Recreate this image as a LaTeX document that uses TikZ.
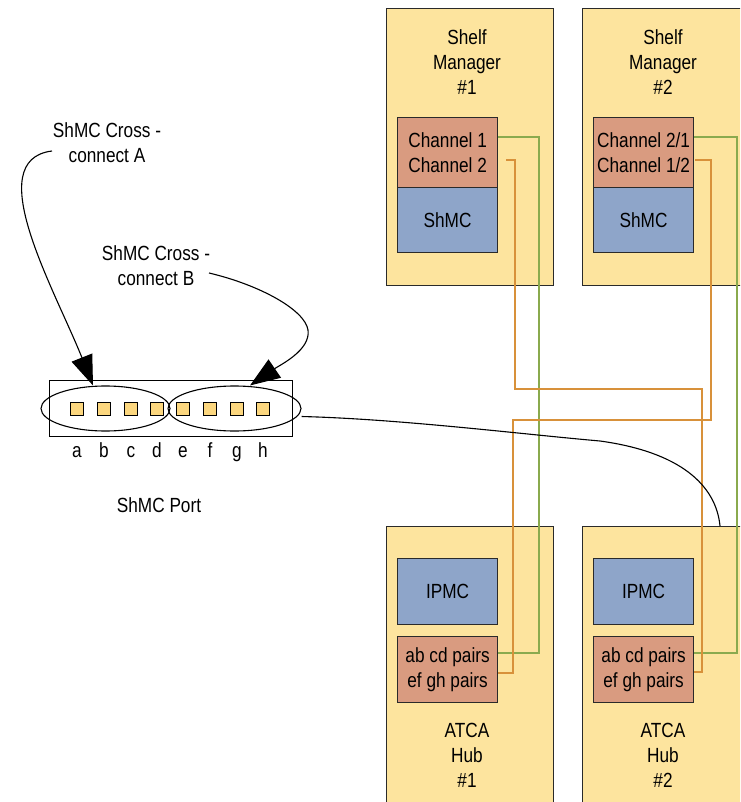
\documentclass[tikz,border=0pt]{standalone}
\usepackage{fontspec}
\setmainfont{Liberation Sans}[FakeStretch=0.84]
\usetikzlibrary{arrows.meta,shapes.geometric}
\definecolor{boxyellow}{HTML}{FDE49E}
\definecolor{portyellow}{HTML}{FCD77F}
\definecolor{salmon}{HTML}{D99B80}
\definecolor{steel}{HTML}{8EA5C9}
\definecolor{wgreen}{HTML}{8AAA4E}
\definecolor{worange}{HTML}{D8913A}
\definecolor{edge}{HTML}{2A2A2A}
\tikzset{
  txt/.style={font=\fontsize{20.5}{25}\selectfont},
  unit/.style={draw=edge, line width=1.3pt, fill=boxyellow, minimum width=167pt, minimum height=#1, anchor=north west, inner sep=0pt},
  chbox/.style={draw=edge, line width=1.2pt, fill=salmon, minimum width=100pt, minimum height=#1, anchor=north west, inner sep=0pt, align=center, txt},
  ctlbox/.style={draw=edge, line width=1.2pt, fill=steel, minimum width=100pt, minimum height=#1, anchor=north west, inner sep=0pt, txt},
  lbl/.style={align=center, inner sep=0pt, txt},
  sq/.style={draw=black, line width=0.9pt, fill=portyellow, minimum size=13pt, inner sep=0pt},
  ring/.style={ellipse, draw=black, line width=1.1pt, inner sep=0pt},
  gline/.style={draw=wgreen, line width=1.3pt},
  oline/.style={draw=worange, line width=1.3pt},
  callout/.style={draw=black, line width=1.1pt, -{Triangle[length=30pt,width=22pt]}},
}
\begin{document}
\begin{tikzpicture}[x=1pt,y=-1pt]
\clip (0,0) rectangle (740,802);
\fill[white] (0,0) rectangle (740,802);

% Shelf managers
\node[unit=277pt] (sm1) at (386,8) {};
\node[unit=277pt] (sm2) at (582,8) {};
\node[lbl] (sm1t) at (467,62) {Shelf\\Manager\\\#1};
\node[lbl] (sm2t) at (663,62) {Shelf\\Manager\\\#2};
\node[chbox=70pt] (ch1) at (397,117) {Channel 1\\Channel 2};
\node[ctlbox=65pt] (shmc1) at (397,187) {ShMC};
\node[chbox=70pt] (ch2) at (593,117) {Channel 2/1\\Channel 1/2};
\node[ctlbox=65pt] (shmc2) at (593,187) {ShMC};

% ATCA hubs
\node[unit=290pt] (hub1) at (386,526) {};
\node[unit=290pt] (hub2) at (582,526) {};
\node[ctlbox=66pt] (ipmc1) at (397,558) {IPMC};
\node[chbox=66pt] (pr1) at (397,636) {ab cd pairs\\ef gh pairs};
\node[ctlbox=66pt] (ipmc2) at (593,558) {IPMC};
\node[chbox=66pt] (pr2) at (593,636) {ab cd pairs\\ef gh pairs};
\node[lbl] (hub1t) at (467,755) {ATCA\\Hub\\\#1};
\node[lbl] (hub2t) at (663,755) {ATCA\\Hub\\\#2};

% connector endpoints
\coordinate (g1a) at (ch1.east |- 0,137);
\coordinate (o1a) at (506,160);
\coordinate (g2a) at (ch2.east |- 0,137);
\coordinate (o2a) at (695,160);
\coordinate (g1b) at (pr1.east |- 0,653);
\coordinate (o1b) at (pr1.east |- 0,673);
\coordinate (g2b) at (pr2.east |- 0,653);
\coordinate (o2b) at (pr2.east |- 0,672);

\draw[gline] (g1a) -| (539,300) |- (g1b);
\draw[gline] (g2a) -| (737,300) |- (g2b);
\draw[oline] (o1a) -| (515,389) -| (702,500) |- (o2b);
\draw[oline] (o2a) -| (711,420) -| (513,500) |- (o1b);

% ShMC port
\node[draw=black, line width=1pt, minimum width=243pt, minimum height=56pt, inner sep=0pt] (port) at (170.5,408.5) {};
\foreach \x/\l [count=\i] in {77/a,104/b,131/c,157/d,183/e,210/f,237/g,263/h}{
  \node[sq] (s\i) at (\x,408.5) {};
  \node[lbl, anchor=base] (t\i) at (\x,457) {\l};
}
\node[ring, minimum width=129pt, minimum height=45pt] (ell1) at (105.5,408.5) {};
\node[ring, minimum width=133pt, minimum height=45pt] (ell2) at (234.5,408.5) {};
\node[lbl] (portt) at (159,505) {ShMC Port};

\node[lbl] (ca) at (107,143) {ShMC Cross -\\connect A};
\node[lbl] (cb) at (156,266) {ShMC Cross -\\connect B};

\coordinate (caS) at (52,151);
\coordinate (cbS) at (209,273);
\draw[callout] (caS) .. controls (-20,160) and (55,290) .. (ell1.north -| 93,0);
\draw[callout] (cbS) .. controls (260,285) and (305,310) .. (308,330) .. controls (311,350) and (280,365) .. (ell2.north -| 250,0);

% link to hub 2
\draw[black, line width=1.1pt] (ell2.east) ++(0,8) .. controls (400,419) and (520,434) .. (600,441) .. controls (680,452) and (716,485) .. (hub2.north -| 720,0);
\end{tikzpicture}
\end{document}
